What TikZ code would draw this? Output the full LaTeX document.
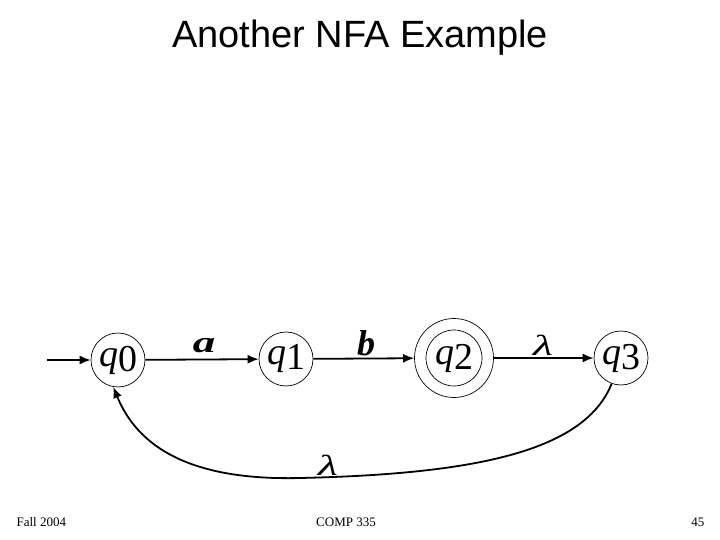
\documentclass[tikz,border=0pt]{standalone}
\usepackage{fontspec}
\setmainfont{Liberation Serif}
\newfontfamily\titlefont{Liberation Sans}
\usetikzlibrary{arrows.meta}
\begin{document}
\begin{tikzpicture}[x=1pt,y=-1pt,
  state/.style={circle,draw,line width=0.7pt,minimum size=54pt,inner sep=0pt},
  trans/.style={line width=1.8pt,-{Latex[length=11pt,width=9pt]}},
  lab/.style={font=\fontsize{36}{36}\selectfont\itshape},
  lamlab/.style={font=\fontsize{29}{29}\selectfont\itshape},
  qlab/.style={font=\fontsize{38}{38}\selectfont}]
\useasboundingbox (0,0) rectangle (720,540);
\node[font=\titlefont\fontsize{38}{38}\selectfont] (title) at (360,38) {Another NFA Example};
\node[state] (q0) at (118,360) {};
\node[qlab] at (q0) {\textit{q}\raisebox{-5pt}{0}};
\node[state] (q1) at (286,359) {};
\node[qlab] at (q1) {\textit{q}\raisebox{-5pt}{1}};
\node[state,minimum size=79pt] (q2) at (454,358) {};
\node[state,minimum size=56pt] (q2i) at (454,358) {};
\node[qlab] at (q2) {\textit{q}\raisebox{-5pt}{2}};
\node[state] (q3) at (621,358) {};
\node[qlab] at (q3) {\textit{q}\raisebox{-5pt}{3}};
\coordinate (start) at (47,360);
\draw[trans] (start) -- (q0);
\draw[trans] (q0) -- (q1);
\draw[trans] (q1) -- (q2);
\draw[trans] (q2) -- (q3);
\draw[trans] (q3.-110) .. controls (585,450) and (480,474) .. (300,478) .. controls (180,481) and (135,440) .. (q0.-100);
\node[lab,font=\fontsize{30}{30}\selectfont\itshape] (la) at (204,346) {\scalebox{1.5}[1]{\textbf{a}}};
\node[lab] (lb) at (366,343) {\textbf{b}};
\node[lamlab] (ll1) at (543,345) {\scalebox{1.6}[1]{λ}};
\node[lamlab] (ll2) at (328,465) {\scalebox{1.6}[1]{λ}};
\node[font=\fontsize{13}{13}\selectfont,anchor=west] (f1) at (13,522) {Fall 2004};
\node[font=\fontsize{13}{13}\selectfont] (f2) at (346,522) {COMP 335};
\node[font=\fontsize{13}{13}\selectfont,anchor=east] (f3) at (708,522) {45};
\end{tikzpicture}
\end{document}
